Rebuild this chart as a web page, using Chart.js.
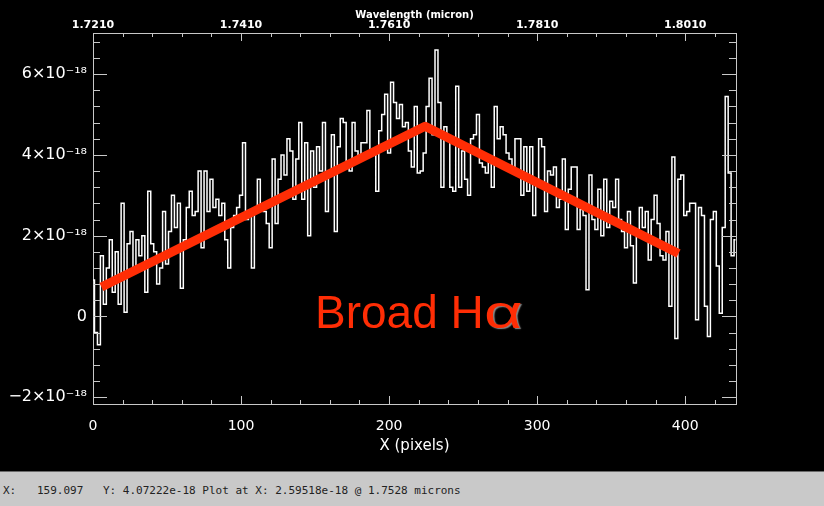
<!DOCTYPE html>
<html>
<head>
<meta charset="utf-8">
<script src="https://cdn.jsdelivr.net/npm/chart.js@4.4.1/dist/chart.umd.min.js"></script>
<style>
  html, body { margin: 0; padding: 0; background: #000; overflow: hidden; }
  #wrap { position: relative; width: 824px; height: 471px; }
  #plot { display: block; }
  #label {
    position: absolute; left: 315px; top: 289px;
    font: 46px "Liberation Sans", Arial, sans-serif; line-height: 46px;
    color: #ff2d05; white-space: nowrap;
  }
  #label .alpha {
    display: inline-block; transform: scaleX(1.45); transform-origin: left bottom;
    text-shadow: 1px 1px 1px rgba(255,255,255,0.55);
  }
  #status {
    position: relative; width: 824px; height: 34px;
    background: #c9c9c9; border-top: 1px solid #6a6a6a;
    font: 11px "DejaVu Sans Mono", "Liberation Mono", monospace; color: #222;
  }
  #status span { position: absolute; top: 12px; white-space: pre; }
</style>
</head>
<body>
<div id="wrap">
  <canvas id="plot" width="824" height="471"></canvas>
  <div id="label">Broad H<span class="alpha">α</span></div>
</div>
<div id="status">
  <span style="left:3px">X:</span>
  <span style="left:37px">159.097</span>
  <span style="left:103px">Y: 4.07222e-18 Plot at X: 2.59518e-18 @ 1.7528 microns</span>
</div>
<script>
// spectrum, one value every 2 detector pixels, flux in units of 1e-18
const pixelStep = 2;
const flux = [
  0.9, -0.4, -0.7, 1.5, 0.3, 1.2, 1.9, 0.6, 1.6, 0.3,
  2.8, 0.1, 1.8, 2.1, 1.2, 1.9, 1.5, 2.0, 0.6, 3.1,
  1.8, 1.6, 0.8, 1.2, 2.6, 1.3, 2.1, 3.0, 2.2, 2.8,
  0.7, 1.9, 2.7, 3.1, 2.5, 2.6, 3.6, 1.7, 3.6, 2.6,
  3.4, 2.7, 2.9, 2.5, 2.8, 1.9, 1.2, 2.2, 2.5, 2.7,
  3.0, 4.3, 2.4, 2.6, 1.2, 2.6, 3.4, 2.7, 2.6, 2.3,
  1.7, 3.9, 2.3, 3.4, 4.0, 3.5, 4.4, 4.1, 2.9, 3.9,
  4.8, 2.9, 4.3, 2.0, 4.1, 3.2, 4.2, 3.6, 4.8, 2.6,
  3.6, 4.5, 2.1, 4.2, 4.9, 4.8, 3.7, 3.6, 4.8, 4.1,
  3.9, 4.3, 4.3, 5.1, 4.1, 4.05, 3.1, 4.6, 5.0, 5.5,
  4.05, 5.8, 5.3, 4.9, 5.25, 4.7, 4.8, 4.1, 3.7, 5.2,
  3.55, 3.6, 4.05, 5.2, 5.9, 4.5, 6.6, 5.3, 3.2, 4.7,
  4.4, 3.2, 3.1, 5.7, 3.2, 4.1, 3.4, 3.0, 4.4, 4.5,
  5.0, 3.8, 3.7, 3.55, 3.9, 3.2, 5.2, 4.4, 4.7, 4.5,
  4.05, 3.9, 3.7, 4.4, 4.4, 3.0, 4.2, 3.1, 4.2, 2.5,
  3.4, 4.4, 4.2, 2.6, 3.6, 3.5, 3.7, 2.7, 2.9, 3.9,
  2.15, 3.15, 3.7, 3.7, 2.15, 2.65, 2.5, 0.66, 3.5, 2.4,
  2.15, 3.15, 2.0, 3.4, 2.2, 2.85, 2.7, 3.4, 2.4, 2.1,
  1.7, 2.6, 1.75, 0.83, 2.1, 2.7, 2.2, 2.6, 1.4, 2.4,
  3.0, 2.3, 1.5, 1.4, 2.1, 0.25, 3.95, -0.55, 3.4, 3.5,
  2.5, 2.6, 2.8, 2.8, -0.08, 2.7, 2.5, 0.25, -0.5, 2.4,
  2.6, 1.25, 0.08, 2.2, 5.45, 3.55, 1.5, 1.9
];

// broad H-alpha sketch: start, peak, end
const broadX = [5.7, 224.3, 395.5];
const broadY = [0.73, 4.71, 1.56];

// axes
const xMin = 0, xMax = 434.3;
const yMin = -2.17, yMax = 7.02;
const lambda0 = 1.7210;      // micron at pixel 0
const dLambda = 0.0002;      // micron per pixel

const axisColor = '#c8c8c8';
const white = '#ffffff';

const spectrum = flux.map((v, i) => ({ x: i * pixelStep, y: v }));
const broad = broadX.map((x, i) => ({ x: x, y: broadY[i] }));

function yLabel(v) {
  if (v === 0) return '0';
  return (v < 0 ? '\u2212' + (-v) : v) + '\u00d710\u207b\u00b9\u2078';
}

// IDL style: tick marks point into the plot box
const inwardTicks = {
  id: 'inwardTicks',
  afterDraw(chart) {
    const { ctx, chartArea: a, scales } = chart;
    ctx.save();
    ctx.strokeStyle = axisColor;
    ctx.lineWidth = 1;
    ctx.beginPath();
    for (let k = 0; k * 20 <= scales.x.max; k++) {
      const px = Math.round(scales.x.getPixelForValue(k * 20)) + 0.5;
      const len = k % 5 === 0 ? 8 : 4;
      ctx.moveTo(px, a.bottom); ctx.lineTo(px, a.bottom - len);
      ctx.moveTo(px, a.top); ctx.lineTo(px, a.top + len);
    }
    for (let k = -5; k * 0.4 <= scales.y.max; k++) {
      const v = k * 0.4;
      if (v < scales.y.min) continue;
      const py = Math.round(scales.y.getPixelForValue(v)) + 0.5;
      const len = k % 5 === 0 ? 14 : 7;
      ctx.moveTo(a.left, py); ctx.lineTo(a.left + len, py);
      ctx.moveTo(a.right, py); ctx.lineTo(a.right - len, py);
    }
    ctx.stroke();
    ctx.restore();
  }
};

new Chart(document.getElementById('plot'), {
  type: 'line',
  data: {
    datasets: [
      {
        data: broad,
        borderColor: '#ff2d05',
        borderWidth: 9,
        borderJoinStyle: 'round',
        pointRadius: 0,
        order: 0
      },
      {
        data: spectrum,
        borderColor: white,
        borderWidth: 1.5,
        stepped: 'middle',
        pointRadius: 0,
        order: 1
      }
    ]
  },
  options: {
    responsive: false,
    animation: false,
    events: [],
    layout: { padding: 0 },
    plugins: { legend: { display: false }, tooltip: { enabled: false } },
    scales: {
      x: {
        type: 'linear', position: 'bottom', min: xMin, max: xMax,
        afterFit: s => { s.height = 67; },
        grid: { display: false, drawTicks: false },
        border: { display: true, color: axisColor },
        ticks: {
          stepSize: 100, includeBounds: false, padding: 14, color: white,
          maxRotation: 0, font: { family: 'DejaVu Sans', size: 14 }
        },
        title: {
          display: true, text: 'X (pixels)', color: white,
          font: { family: 'DejaVu Sans', size: 15 }, padding: { top: 0, bottom: 16 }
        }
      },
      x2: {
        type: 'linear', position: 'top', min: xMin, max: xMax,
        afterFit: s => { s.height = 33; },
        grid: { display: false, drawTicks: false },
        border: { display: true, color: axisColor },
        ticks: {
          stepSize: 100, includeBounds: false, padding: 1, color: white,
          maxRotation: 0, font: { family: 'DejaVu Sans', size: 11, weight: 'bold' },
          callback: v => (lambda0 + v * dLambda).toFixed(4)
        },
        title: {
          display: true, text: 'Wavelength (micron)', color: white,
          font: { family: 'DejaVu Sans', size: 10, weight: 'bold' }, padding: { top: 9, bottom: 0 }
        }
      },
      y: {
        type: 'linear', position: 'left', min: yMin, max: yMax,
        afterFit: s => { s.width = 93; },
        grid: { display: false, drawTicks: false },
        border: { display: true, color: axisColor },
        ticks: {
          stepSize: 2, includeBounds: false, padding: 6, color: white,
          font: { family: 'DejaVu Sans', size: 16 }, callback: yLabel
        }
      },
      y2: {
        type: 'linear', position: 'right', min: yMin, max: yMax,
        afterFit: s => { s.width = 88; },
        grid: { display: false, drawTicks: false },
        border: { display: true, color: axisColor },
        ticks: { display: false }
      }
    }
  },
  plugins: [inwardTicks]
});
</script>
</body>
</html>
